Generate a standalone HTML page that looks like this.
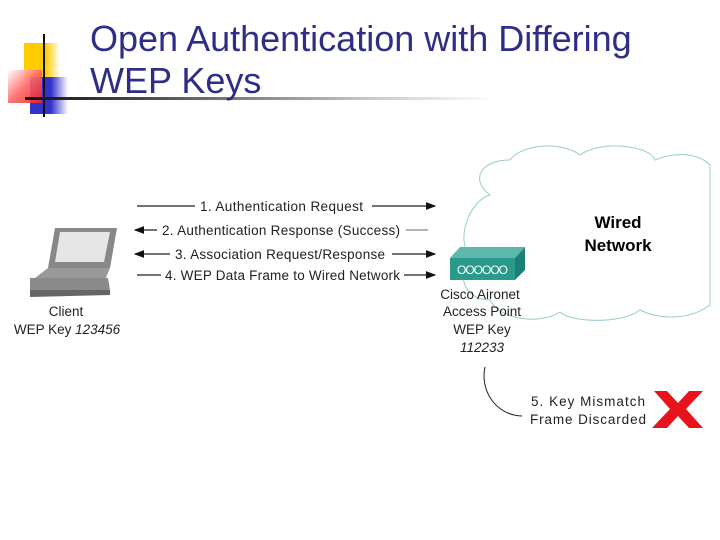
<!DOCTYPE html>
<html><head><style>
body{margin:0;width:720px;height:540px;background:#fff;position:relative;overflow:hidden;font-family:"Liberation Sans",sans-serif}
.t{position:absolute;left:90px;color:#2e2e88;font-size:36px;line-height:42px;top:18px;white-space:nowrap}
</style></head><body>
<div style="position:absolute;left:24px;top:43px;width:36px;height:37px;background:linear-gradient(90deg,#fc0 60%,#fff0)"></div>
<div style="position:absolute;left:30px;top:77px;width:38px;height:37px;background:linear-gradient(90deg,#33c 55%,#fff0)"></div>
<div style="position:absolute;left:8px;top:70px;width:34px;height:33px;background:linear-gradient(135deg,#fff 0%,#f66 50%,#e22 100%);opacity:.9"></div>
<div style="position:absolute;left:43px;top:34px;width:2px;height:83px;background:#111"></div>
<div style="position:absolute;left:25px;top:97px;width:470px;height:3px;background:linear-gradient(90deg,#111 0%,#555 30%,#ccc 75%,#fff 100%)"></div>
<div class="t">Open Authentication with Differing<br>WEP Keys</div>
<svg width="720" height="540" style="position:absolute;left:0;top:0" font-family="Liberation Sans,sans-serif">
<defs><marker id="a" markerWidth="8" markerHeight="6" refX="7" refY="3" orient="auto"><path d="M0,0L8,3L0,6z" fill="#111"/></marker>
<marker id="b" markerWidth="8" markerHeight="6" refX="1" refY="3" orient="auto"><path d="M8,0L0,3L8,6z" fill="#111"/></marker></defs>
<path d="M490,195 C470,180 480,160 510,160 C520,145 560,140 580,155 C600,140 650,145 655,160 C680,150 700,155 710,165 L710,305 C690,320 660,320 640,310 C620,325 570,322 560,312 C540,325 500,320 490,300 C465,300 455,275 470,255 C455,240 470,200 490,195Z" fill="#fff" stroke="#9cc" stroke-width="1"/>
<text x="618" y="228" font-size="17" font-weight="bold" text-anchor="middle">Wired</text>
<text x="618" y="251" font-size="17" font-weight="bold" text-anchor="middle">Network</text>
<polygon points="450,258 460,247 525,247 515,258" fill="#5cb8ac"/>
<polygon points="515,258 525,247 525,270 515,280" fill="#1e7f74"/>
<rect x="450" y="258" width="65" height="22" fill="#2a9a8c"/>
<text x="482" y="274" font-size="12" fill="#fff" text-anchor="middle" letter-spacing="-1">OOOOOO</text>
<g font-size="13.5" fill="#222" text-anchor="middle">
<text x="480" y="299">Cisco Aironet</text><text x="482" y="316">Access Point</text><text x="482" y="334">WEP Key</text><text x="482" y="352" font-style="italic">112233</text>
<text x="66" y="316">Client</text><text x="67" y="334">WEP Key <tspan font-style="italic">123456</tspan></text>
</g>
<g font-size="13.5" fill="#222">
<text x="531" y="406" textLength="114">5. Key Mismatch</text><text x="530" y="424" textLength="116">Frame Discarded</text>
</g>
<path d="M485,367 C480,390 495,415 522,416" fill="none" stroke="#222" stroke-width="1"/>
<path d="M654,391 L667,391 L678,403 L689,391 L703,391 L686,409 L703,428 L689,428 L678,416 L667,428 L652,428 L670,409Z" fill="#e8141c"/>
<g stroke="#222" stroke-width="1.3">
<line x1="137" y1="206" x2="195" y2="206"/><line x1="372" y1="206" x2="435" y2="206" marker-end="url(#a)"/>
<line x1="135" y1="230" x2="157" y2="230" marker-start="url(#b)"/><line x1="406" y1="230" x2="428" y2="230" stroke="#888"/>
<line x1="135" y1="254" x2="170" y2="254" marker-start="url(#b)"/><line x1="392" y1="254" x2="435" y2="254" marker-end="url(#a)"/>
<line x1="137" y1="275" x2="161" y2="275"/><line x1="404" y1="275" x2="435" y2="275" marker-end="url(#a)"/>
</g>
<g font-size="13.5" fill="#222">
<text x="200" y="211" textLength="163">1. Authentication Request</text>
<text x="162" y="235" textLength="238">2. Authentication Response (Success)</text>
<text x="175" y="259" textLength="210">3. Association Request/Response</text>
<text x="165" y="280" textLength="235">4. WEP Data Frame to Wired Network</text>
</g>
<polygon points="55,228 117,228 110,268 48,268" fill="#888"/>
<polygon points="60,232 110,232 104,262 55,262" fill="#e6e6e6"/>
<polygon points="48,268 110,268 105,280 35,278" fill="#999"/>
<polygon points="30,278 108,278 110,290 30,292" fill="#8a8a8a"/>
<polygon points="30,290 110,290 110,295 30,297" fill="#666"/>
</svg>
</body></html>
